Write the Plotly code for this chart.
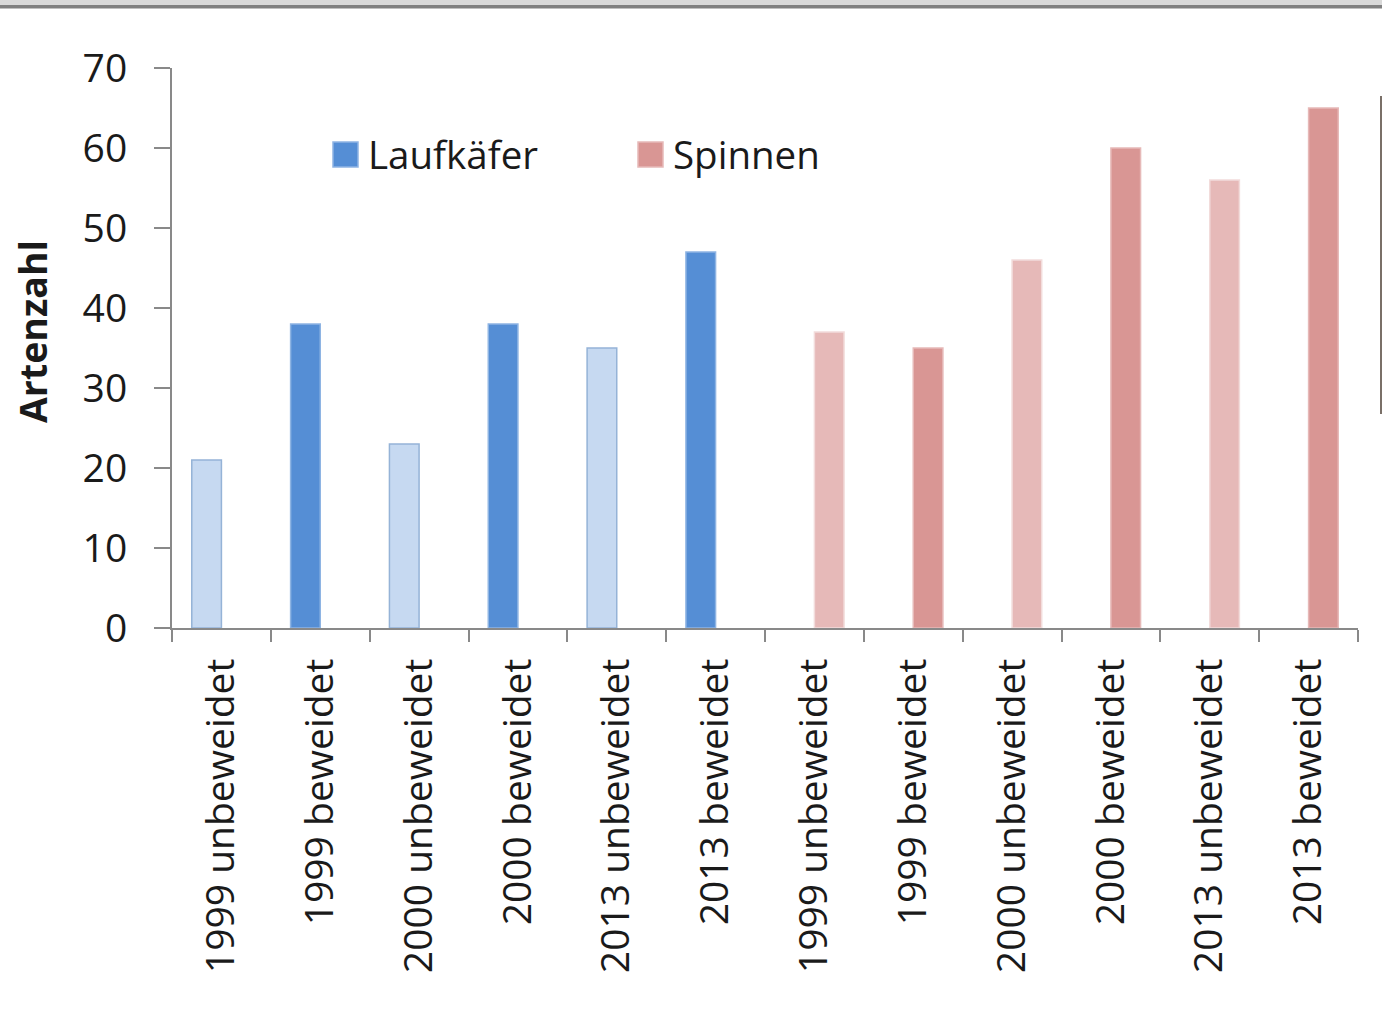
import plotly.graph_objects as go

categories = ["1999 unbeweidet", "1999 beweidet", "2000 unbeweidet", "2000 beweidet",
              "2013 unbeweidet", "2013 beweidet",
              "1999 unbeweidet ", "1999 beweidet ", "2000 unbeweidet ", "2000 beweidet ",
              "2013 unbeweidet ", "2013 beweidet "]
tick_labels = [c.strip() for c in categories]
laufkaefer = [21, 38, 23, 38, 35, 47, None, None, None, None, None, None]
spinnen = [None, None, None, None, None, None, 37, 35, 46, 60, 56, 65]
y_ticks = [0, 10, 20, 30, 40, 50, 60, 70]

W, H = 1382, 1035
L, R, T, B = 172, 24, 68, 407
PW, PH = W - L - R, H - T - B


def px(x):
    return (x - L) / PW


def py(y):
    return (H - B - y) / PH


FONT = "Open Sans"
AXIS = "#898989"

series = [
    ("Laufkäfer", laufkaefer,
     {"u": ("#C6D9F1", "#95B3D7"), "b": ("#558ED5", "#8EB4E3")}),
    ("Spinnen", spinnen,
     {"u": ("#E6B9B8", "#F2DCDB"), "b": ("#D99694", "#E6B9B8")}),
]

fig = go.Figure()
for name, vals, cols in series:
    for key in ("u", "b"):
        ys = [v if ((" unbeweidet" in c) == (key == "u")) else None
              for c, v in zip(categories, vals)]
        fig.add_trace(go.Bar(
            x=categories, y=ys, name=name, offsetgroup=name,
            marker=dict(color=cols[key][0], line=dict(color=cols[key][1], width=1.5)),
            showlegend=False,
        ))

fig.update_layout(
    width=W, height=H,
    margin=dict(l=L, r=R, t=T, b=B),
    paper_bgcolor="white", plot_bgcolor="white",
    barmode="group", bargap=0.4, bargroupgap=0,
    font=dict(family=FONT, color="#1a1a1a"),
)
fig.update_xaxes(
    type="category", tickmode="array", tickvals=categories, ticktext=tick_labels,
    tickson="boundaries", ticks="outside", ticklen=12, tickwidth=2, tickcolor=AXIS,
    showline=True, linecolor=AXIS, linewidth=2, showgrid=False,
    tickangle=-90, tickfont=dict(size=39, family=FONT, color="#1a1a1a"),
    ticklabelstandoff=13,
)
fig.update_yaxes(
    range=[0, 70], tickvals=y_ticks, ticks="outside", ticklen=16, tickwidth=2,
    tickcolor=AXIS, showline=True, linecolor=AXIS, linewidth=2, showgrid=False,
    zeroline=False, tickfont=dict(size=39, family=FONT, color="#1a1a1a"),
    ticklabelstandoff=19,
)

# y title
fig.add_annotation(text="<b>Artenzahl</b>", x=px(32), y=py(332), xref="paper", yref="paper",
                   textangle=-90, showarrow=False, xanchor="center", yanchor="middle",
                   font=dict(size=37.5, family=FONT, color="#1a1a1a"))

# manual legend
legend_items = [("Laufkäfer", "#558ED5", "#8EB4E3", 333), ("Spinnen", "#D99694", "#E6B9B8", 638)]
shapes = []
for name, fill, line, x0 in legend_items:
    shapes.append(dict(type="rect", xref="paper", yref="paper",
                       x0=px(x0), x1=px(x0 + 25), y0=py(167), y1=py(142),
                       fillcolor=fill, line=dict(color=line, width=1.5)))
    fig.add_annotation(text=name, x=px(x0 + 33), y=py(154), xref="paper", yref="paper",
                       showarrow=False, xanchor="left", yanchor="middle",
                       font=dict(size=38.5, family=FONT, color="#1a1a1a"))

# top frame band and right edge line
shapes.append(dict(type="rect", xref="paper", yref="paper", x0=px(0), x1=px(W), y0=py(5), y1=py(0),
                   fillcolor="#d9d9d9", line=dict(width=0), layer="above"))
shapes.append(dict(type="rect", xref="paper", yref="paper", x0=px(0), x1=px(W), y0=py(8.5), y1=py(5),
                   fillcolor="#808080", line=dict(width=0), layer="above"))
shapes.append(dict(type="line", xref="paper", yref="paper", x0=px(1381), x1=px(1381),
                   y0=py(96), y1=py(414), line=dict(color="#7a7068", width=2)))
fig.update_layout(shapes=shapes)

fig.write_html("out.html", post_script="document.body.style.margin='0';document.body.style.overflow='hidden';",
               config={"displayModeBar": False})
